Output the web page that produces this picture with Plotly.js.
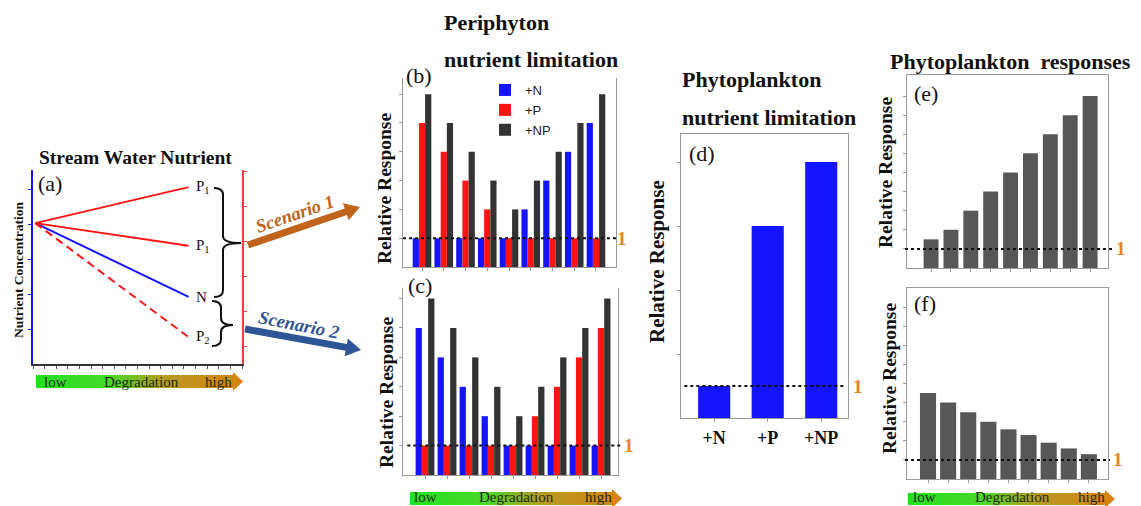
<!DOCTYPE html>
<html><head><meta charset="utf-8">
<script src="https://cdn.plot.ly/plotly-3.0.1.min.js"></script>
<style>html,body{margin:0;padding:0;background:#fff}#chart{width:1141px;height:506px}</style>
</head><body><div id="chart"></div>
<script>
// ---------- DATA ----------
// Panel (a): stream water nutrient concentration vs degradation
const a_degradation = [0.2, 13.4];
const a_P1_up = [4.03, 5.06];
const a_P1_down = [4.03, 3.38];
const a_N = [4.03, 1.92];
const a_P2 = [4.03, 0.77];

// Panels (b), (c): periphyton nutrient limitation along degradation gradient
const gradientSteps = [1, 2, 3, 4, 5, 6, 7, 8, 9];
const b_N  = [1, 1, 1, 1, 1, 2, 3, 4, 5];
const b_P  = [5, 4, 3, 2, 1, 1, 1, 1, 1];
const b_NP = [6, 5, 4, 3, 2, 3, 4, 5, 6];
const c_N  = [5, 4, 3, 2, 1, 1, 1, 1, 1];
const c_P  = [1, 1, 1, 1, 1, 2, 3, 4, 5];
const c_NP = [6, 5, 4, 3, 2, 3, 4, 5, 6];

// Panel (d): phytoplankton nutrient limitation
const d_treatments = ['+N', '+P', '+NP'];
const d_values = [1, 6, 8];

// Panels (e), (f): phytoplankton responses
const e_values = [1.5, 2, 3, 4, 5, 6, 7, 8, 9];
const f_values = [4.5, 4.0, 3.5, 3.0, 2.6, 2.3, 1.9, 1.6, 1.3];

// ---------- STYLE ----------
const W = 1141, H = 506;
const SERIF = 'Liberation Serif, Times New Roman, serif';
const SANS = 'Liberation Sans, Arial, sans-serif';
const BLUE = '#1414ff', RED = '#ff1414', DARK = '#333333', GREY = '#575757';
const ORANGE = '#e8822a', FRAME = '#9a9a9a';
const dx = (l, r) => [l / W, r / W];
const dy = (t, b) => [1 - b / H, 1 - t / H];

const traces = [];
// (a)
traces.push({x: a_degradation, y: a_P1_up, xaxis: 'x', yaxis: 'y2', mode: 'lines', line: {color: RED, width: 2}, showlegend: false, hoverinfo: 'skip'});
traces.push({x: a_degradation, y: a_P1_down, xaxis: 'x', yaxis: 'y2', mode: 'lines', line: {color: RED, width: 2}, showlegend: false, hoverinfo: 'skip'});
traces.push({x: a_degradation, y: a_N, xaxis: 'x', yaxis: 'y', mode: 'lines', line: {color: BLUE, width: 2}, showlegend: false, hoverinfo: 'skip'});
traces.push({x: a_degradation, y: a_P2, xaxis: 'x', yaxis: 'y2', mode: 'lines', line: {color: RED, width: 2, dash: '8px,5px'}, showlegend: false, hoverinfo: 'skip'});

// (b), (c) grouped bars
const BW = 0.285;
function groupBars(xa, ya, N, P, NP, legend) {
  [[N, BLUE, '+N', -1.5], [P, RED, '+P', -0.5], [NP, DARK, '+NP', 0.5]].forEach(([vals, col, name, k]) => {
    traces.push({type: 'bar', x: gradientSteps, y: vals, xaxis: xa, yaxis: ya, name: name,
      offset: k * BW, width: BW, marker: {color: col}, showlegend: legend});
  });
}
groupBars('x3', 'y3', b_N, b_P, b_NP, true);
groupBars('x4', 'y4', c_N, c_P, c_NP, false);

// (d)
traces.push({type: 'bar', x: d_treatments, y: d_values, xaxis: 'x5', yaxis: 'y5', width: 0.6, marker: {color: BLUE}, showlegend: false});
// (e), (f)
traces.push({type: 'bar', x: gradientSteps, y: e_values, xaxis: 'x6', yaxis: 'y6', width: 0.75, marker: {color: GREY}, showlegend: false});
traces.push({type: 'bar', x: gradientSteps, y: f_values, xaxis: 'x7', yaxis: 'y7', width: 0.8, marker: {color: GREY}, showlegend: false});

// decorative degradation arrows (pixel overlay axes)
function gradArrow(x0, x1, xt, y0, y1) {
  const ym = (y0 + y1) / 2;
  traces.push({x: [x0, x1, x1, xt, x1, x1, x0, x0], y: [y0, y0, y0 - 3, ym, y1 + 3, y1, y1, y0],
    xaxis: 'x8', yaxis: 'y8', mode: 'lines', line: {width: 0, color: 'rgba(0,0,0,0)'}, fill: 'toself',
    fillcolor: '#8fc040',
    fillgradient: {type: 'horizontal', colorscale: [[0, '#22e022'], [0.36, '#48d82a'], [0.62, '#b89a22'], [1, '#d8820e']]},
    hoverinfo: 'skip', showlegend: false});
}
gradArrow(36, 233, 243, 375, 388);
gradArrow(410, 612, 622, 492, 505);
gradArrow(908, 1105, 1115, 493, 505);

// ---------- AXES ----------
const noGrid = {showgrid: false, zeroline: false, showticklabels: false};
function frameAxes(xr, yr, xdom, ydom, yticks, xa, ya, topLine) {
  return [
    Object.assign({domain: xdom, range: xr, anchor: ya, showline: true, linecolor: FRAME, linewidth: 1,
      mirror: topLine, ticks: 'outside', ticklen: 3, tickcolor: FRAME, tickvals: gradientSteps}, noGrid),
    Object.assign({domain: ydom, range: yr, anchor: xa, showline: true, linecolor: FRAME, linewidth: 1,
      mirror: true, ticks: 'outside', ticklen: 3, tickcolor: FRAME, tickvals: yticks}, noGrid)
  ];
}
const [x3, y3] = frameAxes([0.126, 9.92], [0, 6.56], dx(403, 616), dy(78, 267), [1, 2, 3, 4, 5, 6], 'x3', 'y3', false);
const [x4, y4] = frameAxes([0.0, 9.77], [0, 6.36], dx(403, 618), dy(288, 475), [1, 2, 3, 4, 5, 6], 'x4', 'y4', false);
const [x6, y6] = frameAxes([-0.21, 9.9], [0, 10.1], dx(907, 1108), dy(75, 268), [1, 2, 3, 4, 5, 6, 7, 8, 9], 'x6', 'y6', true);
const [x7, y7] = frameAxes([-0.045, 9.95], [0, 10.0], dx(907, 1108), dy(288, 479), [1, 2, 3, 4, 5, 6, 7, 8, 9], 'x7', 'y7', true);

const layout = {
  width: W, height: H, margin: {l: 0, r: 0, t: 0, b: 0},
  paper_bgcolor: '#ffffff', plot_bgcolor: 'rgba(0,0,0,0)',
  barmode: 'group', bargap: 0.2,
  font: {family: SERIF, color: '#111'},
  xaxis: Object.assign({domain: dx(33, 242), range: [0, 18], anchor: 'y', showline: true, linecolor: '#333', linewidth: 1.5,
    ticks: 'outside', ticklen: 3, tickcolor: '#555', tick0: 0, dtick: 1}, noGrid),
  yaxis: Object.assign({domain: dy(170, 364), range: [0, 5.55], anchor: 'x', showline: true, linecolor: BLUE, linewidth: 2,
    ticks: 'outside', ticklen: 3, tickcolor: BLUE, tickvals: [1, 2, 3, 4, 5]}, noGrid),
  yaxis2: Object.assign({overlaying: 'y', side: 'right', range: [0, 5.55], anchor: 'x', showline: true, linecolor: '#ff3a3a', linewidth: 2,
    ticks: 'outside', ticklen: 3, tickcolor: '#ff3a3a', tickvals: [0.5, 1.5, 2.5, 3.5, 4.5, 5.5]}, noGrid),
  xaxis3: x3, yaxis3: y3, xaxis4: x4, yaxis4: y4,
  xaxis5: {domain: dx(681, 848), range: [-0.62, 2.5], anchor: 'y5', showline: true, linecolor: FRAME, mirror: true,
    ticks: 'outside', ticklen: 3, tickcolor: FRAME, showgrid: false, zeroline: false,
    tickfont: {family: SERIF, size: 18, weight: 700, color: '#111'}},
  yaxis5: Object.assign({domain: dy(134, 418), range: [0, 8.875], anchor: 'x5', showline: true, linecolor: FRAME, mirror: true,
    ticks: 'outside', ticklen: 3, tickcolor: FRAME, tickvals: [2, 4, 6, 8]}, noGrid),
  xaxis6: x6, yaxis6: y6, xaxis7: x7, yaxis7: y7,
  xaxis8: {domain: [0, 1], range: [0, W], anchor: 'y8', visible: false, fixedrange: true},
  yaxis8: {domain: [0, 1], range: [H, 0], anchor: 'x8', visible: false, fixedrange: true},
  legend: {x: 485 / W, y: 1 - 75 / H, xanchor: 'left', yanchor: 'top', bgcolor: 'rgba(0,0,0,0)',
    font: {family: SANS, size: 13, color: '#222'}, itemwidth: 30, tracegroupgap: 2},
  shapes: [], annotations: []
};

// dotted "1" reference lines
[['x3', 'y3', 0, 1.01], ['x4', 'y4', 0.02, 1.02], ['x5', 'y5', 0.02, 0.98], ['x6', 'y6', -0.01, 1.035], ['x7', 'y7', -0.01, 1.01]].forEach(([xa, ya, a, b]) => {
  layout.shapes.push({type: 'line', xref: xa + ' domain', yref: ya, x0: a, x1: b, y0: 1, y1: 1,
    line: {color: '#111', width: 2, dash: 'dot'}});
});

// braces (pixel overlay)
function brace(yt, yb, ym, x0, x1, xt) {
  const r = 7;
  return {type: 'path', xref: 'x8', yref: 'y8', line: {color: '#111', width: 2},
    path: `M${x0},${yt} Q${x1},${yt} ${x1},${yt + r} L${x1},${ym - r} Q${x1},${ym} ${xt},${ym} Q${x1},${ym} ${x1},${ym + r} L${x1},${yb - r} Q${x1},${yb} ${x0},${yb}`};
}
layout.shapes.push(brace(188, 297, 243, 214, 223, 241));
layout.shapes.push(brace(301, 346, 325, 212, 221, 233));

// scenario block arrows (pixel overlay)
function blockArrow(x0, y0, x1, y1, sw, hl, hw, color) {
  const L = Math.hypot(x1 - x0, y1 - y0), ux = (x1 - x0) / L, uy = (y1 - y0) / L, nx = -uy, ny = ux;
  const bx = x1 - ux * hl, by = y1 - uy * hl;
  const pts = [[x0 + nx * sw / 2, y0 + ny * sw / 2], [bx + nx * sw / 2, by + ny * sw / 2], [bx + nx * hw / 2, by + ny * hw / 2],
    [x1, y1], [bx - nx * hw / 2, by - ny * hw / 2], [bx - nx * sw / 2, by - ny * sw / 2], [x0 - nx * sw / 2, y0 - ny * sw / 2]];
  return {type: 'path', xref: 'x8', yref: 'y8', fillcolor: color, line: {width: 0},
    path: 'M' + pts.map(p => p[0].toFixed(1) + ',' + p[1].toFixed(1)).join(' L') + ' Z'};
}
layout.shapes.push(blockArrow(248, 245, 360, 207, 7, 15, 18, '#c0641c'));
layout.shapes.push(blockArrow(245, 329, 361, 350, 7, 15, 18, '#2e5595'));

const A = layout.annotations;
function txt(x, y, text, size, opt) {
  A.push(Object.assign({xref: 'paper', yref: 'paper', x: x / W, y: 1 - y / H, text: text, showarrow: false,
    xanchor: 'center', yanchor: 'middle', font: {family: SERIF, size: size, color: '#111'}}, opt || {}));
}
// titles
txt(37, 157, '<b>Stream Water Nutrient</b>', 19.5, {xanchor: 'left'});
txt(442, 23, '<b>Periphyton</b>', 22, {xanchor: 'left'});
txt(442, 60, '<b>nutrient limitation</b>', 22, {xanchor: 'left'});
txt(680, 80, '<b>Phytoplankton</b>', 22, {xanchor: 'left'});
txt(680, 117, '<b>nutrient limitation</b>', 22, {xanchor: 'left'});
txt(888, 62, '<b>Phytoplankton  responses</b>', 22, {xanchor: 'left'});
// panel letters
[['(a)', 36, 183], ['(b)', 404, 75], ['(c)', 406, 285], ['(d)', 687, 153], ['(e)', 912, 93], ['(f)', 912, 303]].forEach(([t, x, y]) => txt(x, y, t, 22, {xanchor: 'left'}));
// y titles
txt(18, 270, '<b>Nutrient Concentration</b>', 13.5, {textangle: -90});
[[384, 189, 19.5], [386, 393, 19.5], [657, 262, 21], [885, 173, 19.5], [889, 379, 19.5]].forEach(([x, y, s]) => txt(x, y, '<b>Relative Response</b>', s, {textangle: -90}));
// orange "1" marks
[['y3', 622], ['y4', 629], ['y5', 858], ['y6', 1121], ['y7', 1118]].forEach(([ya, x]) => {
  A.push({xref: 'paper', yref: ya, x: x / W, y: 1, text: '<b>1</b>', showarrow: false, xanchor: 'center', yanchor: 'middle',
    font: {family: SERIF, size: 19, color: ORANGE}});
});
// line-end labels in (a)
[['P<sub>1</sub>', 'y2', a_P1_up[1]], ['P<sub>1</sub>', 'y2', a_P1_down[1]], ['N', 'y', a_N[1]], ['P<sub>2</sub>', 'y2', a_P2[1]]].forEach(([t, ya, v]) => {
  A.push({xref: 'x', yref: ya, x: a_degradation[1], y: v, text: t, showarrow: false, xanchor: 'left', xshift: 5, yanchor: 'middle',
    font: {family: SERIF, size: 15, color: '#111'}});
});
// scenario labels
txt(295, 214, '<b><i>Scenario 1</i></b>', 18.5, {textangle: -19, font: {family: SERIF, size: 18.5, color: '#c0641c'}});
txt(299, 325, '<b><i>Scenario 2</i></b>', 18.5, {textangle: 11, font: {family: SERIF, size: 18.5, color: '#2e5595'}});
// degradation labels
[[40, 233, 381.5], [410, 613, 497], [909, 1106, 497]].forEach(([l, r, y]) => {
  const f = {family: SERIF, size: 15, color: '#1e2a10'};
  txt(l + 2, y, 'low', 15, {xanchor: 'left', font: f});
  txt((l + r) / 2 + 5, y, 'Degradation', 15, {font: f});
  txt(r + 1, y, 'high', 15, {xanchor: 'right', font: f});
});

Plotly.newPlot('chart', traces, layout, {staticPlot: true, displayModeBar: false});
</script></body></html>
